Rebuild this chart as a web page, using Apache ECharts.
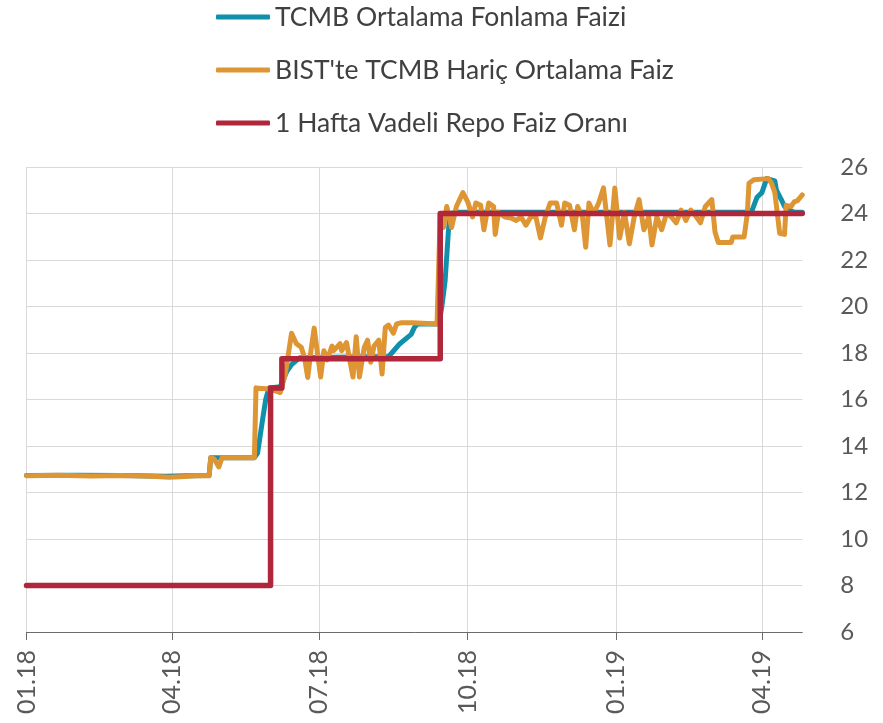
<!DOCTYPE html>
<html>
<head>
<meta charset="utf-8">
<script src="https://cdn.jsdelivr.net/npm/echarts@6/dist/echarts.min.js"></script>
<style>
html,body{margin:0;padding:0;background:#fff;}
#chart{width:883px;height:723px;}
</style>
</head>
<body>
<div id="chart"></div>
<script>
// ---- Data ----
const seriesNames = ["TCMB Ortalama Fonlama Faizi", "BIST'te TCMB Hariç Ortalama Faiz", "1 Hafta Vadeli Repo Faiz Oranı"];

const tcmbDates = ["2018-01-01","2018-02-01","2018-03-01","2018-03-28","2018-04-10","2018-04-24","2018-04-25","2018-05-22","2018-05-24","2018-05-27","2018-05-29","2018-05-31","2018-06-07","2018-06-11","2018-06-14","2018-06-19","2018-08-13","2018-08-15","2018-08-20","2018-08-27","2018-08-29","2018-08-31","2018-09-12","2018-09-14","2018-09-15","2018-09-17","2018-09-19","2018-09-20","2018-09-25","2019-03-22","2019-03-26","2019-03-29","2019-04-01","2019-04-02","2019-04-04","2019-04-09","2019-04-10","2019-04-13","2019-04-15","2019-04-18","2019-04-21","2019-04-26"];
const tcmbValues = [12.73,12.74,12.73,12.7,12.72,12.73,13.5,13.5,13.7,15.1,16.0,16.5,16.55,17.2,17.5,17.8,17.85,18.0,18.4,18.8,19.1,19.25,19.25,19.6,20.0,21.1,23.2,24.0,24.05,24.05,24.15,24.7,24.9,25.1,25.5,25.4,25.0,24.6,24.3,24.15,24.05,24.05];

const bistDates = ["2018-01-01","2018-01-20","2018-02-10","2018-03-01","2018-03-20","2018-03-30","2018-04-06","2018-04-16","2018-04-24","2018-04-25","2018-04-27","2018-04-30","2018-05-02","2018-05-22","2018-05-23","2018-05-31","2018-06-05","2018-06-07",
"2018-06-10","2018-06-14","2018-06-17","2018-06-20","2018-06-22","2018-06-24","2018-06-26","2018-06-28","2018-06-30","2018-07-02","2018-07-04","2018-07-06","2018-07-09","2018-07-10","2018-07-14","2018-07-15","2018-07-18","2018-07-20","2018-07-22","2018-07-24","2018-07-26","2018-07-29","2018-07-31","2018-08-02","2018-08-04","2018-08-07","2018-08-09","2018-08-11","2018-08-13","2018-08-16","2018-08-18","2018-08-21","2018-08-28","2018-09-12",
"2018-09-14","2018-09-16","2018-09-18","2018-09-21","2018-09-24","2018-09-28","2018-10-01","2018-10-04","2018-10-06","2018-10-09","2018-10-11","2018-10-14","2018-10-17","2018-10-18","2018-10-20","2018-10-24","2018-10-28","2018-10-31","2018-11-03","2018-11-06","2018-11-09","2018-11-12","2018-11-15","2018-11-18","2018-11-21","2018-11-25","2018-11-28","2018-11-30","2018-12-03","2018-12-06","2018-12-08","2018-12-11","2018-12-13","2018-12-15","2018-12-18","2018-12-21","2018-12-24","2018-12-28","2018-12-31",
"2019-01-03","2019-01-06","2019-01-09","2019-01-12","2019-01-15","2019-01-18","2019-01-21","2019-01-23","2019-01-26","2019-01-29","2019-02-01","2019-02-04","2019-02-07","2019-02-10","2019-02-13","2019-02-16","2019-02-19","2019-02-22","2019-02-25","2019-02-27","2019-03-01","2019-03-03","2019-03-05","2019-03-13","2019-03-14","2019-03-21","2019-03-23","2019-03-24","2019-03-27","2019-04-05","2019-04-07","2019-04-09","2019-04-12","2019-04-15","2019-04-16","2019-04-19","2019-04-21","2019-04-23","2019-04-26"];
const bistValues = [12.72,12.74,12.71,12.73,12.70,12.66,12.68,12.72,12.72,13.5,13.45,13.1,13.5,13.5,16.5,16.45,16.35,16.3,
17.05,18.85,18.4,18.25,17.8,16.95,18.1,19.07,18.0,16.97,18.1,17.7,18.3,18.1,18.4,18.1,18.45,17.7,16.97,18.7,16.97,18.25,18.55,17.6,18.3,18.55,17.1,19.1,19.2,18.85,19.25,19.3,19.3,19.25,
24.0,23.4,24.3,23.4,24.3,24.9,24.5,23.85,24.45,24.35,23.3,24.45,24.3,23.1,24.05,23.85,23.8,23.7,23.85,23.5,23.85,23.9,22.95,23.85,24.45,24.45,23.5,24.45,24.35,23.3,24.3,23.85,22.55,24.45,24.0,24.45,25.1,22.65,25.1,
22.95,24.05,22.7,23.85,24.6,23.3,23.85,22.65,23.85,23.3,24.0,23.85,23.6,24.15,23.7,24.15,23.9,23.6,24.3,24.45,24.6,23.2,22.75,22.75,22.99,22.99,24.0,25.3,25.45,25.5,25.3,24.9,23.15,23.1,24.35,24.3,24.5,24.55,24.8];

const repoDates = ["2018-01-01","2018-06-01","2018-06-08","2018-09-14","2019-04-26"];
const repoValues = [8, 16.5, 17.75, 24, 24];

const xTickDates = ["2018-01-01","2018-04-01","2018-07-01","2018-10-01","2019-01-01","2019-04-01"];
const xMin = "2018-01-01";
const xMax = "2019-04-26";
const yMin = 6, yMax = 26, yStep = 2;

// ---- Build ----
function ts(s){ const p = s.split('-'); return new Date(+p[0], +p[1]-1, +p[2]).getTime(); }
function zip(d, v){ return d.map((x,i)=>[ts(x), v[i]]); }
function pad(n){ return (n<10?'0':'')+n; }
const labelFont = 'Lato, "Open Sans", sans-serif';
const tickVals = xTickDates.map(ts);

const chart = echarts.init(document.getElementById('chart'), null, {renderer:'canvas'});
const option = {
  animation: false,
  backgroundColor: '#ffffff',
  color: ['#1190AC', '#DE9533', '#B0263A'],
  legend: {
    orient: 'vertical',
    left: 216,
    top: 2,
    padding: 0,
    itemWidth: 54,
    itemHeight: 5,
    itemGap: 23,
    icon: 'roundRect',
    data: seriesNames,
    textStyle: { fontFamily: labelFont, fontSize: 26.5, color: '#404040', lineHeight: 30 }
  },
  grid: { left: 26.5, right: 80.7, top: 167, bottom: 91, containLabel: false },
  xAxis: {
    type: 'value',
    min: ts(xMin),
    max: ts(xMax),
    scale: true,
    axisLine: { show: true, lineStyle: { color: '#6b6b6b', width: 1 } },
    axisTick: { show: true, length: 8, lineStyle: { color: '#6b6b6b' }, customValues: tickVals },
    axisLabel: {
      customValues: tickVals,
      rotate: 90,
      margin: 18,
      fontFamily: labelFont,
      fontSize: 25,
      color: '#595959',
      showMinLabel: true,
      showMaxLabel: true,
      hideOverlap: false,
      formatter: function (val) {
        const d = new Date(val);
        return pad(d.getMonth() + 1) + '.' + String(d.getFullYear()).slice(2);
      }
    },
    splitLine: { show: true, lineStyle: { color: '#d9d9d9', width: 1 } }
  },
  yAxis: {
    type: 'value',
    position: 'right',
    min: yMin, max: yMax, interval: yStep,
    axisLine: { show: false },
    axisTick: { show: false },
    axisLabel: { margin: 38, fontFamily: labelFont, fontSize: 24, color: '#595959' },
    splitLine: { show: true, lineStyle: { color: '#d9d9d9', width: 1 } }
  },
  series: [
    { name: seriesNames[0], type: 'line', data: zip(tcmbDates, tcmbValues), showSymbol: false, symbol: 'none',
      lineStyle: { width: 5, color: '#1190AC', cap: 'round', join: 'round' } },
    { name: seriesNames[1], type: 'line', data: zip(bistDates, bistValues), showSymbol: false, symbol: 'none',
      lineStyle: { width: 5, color: '#DE9533', cap: 'round', join: 'round' } },
    { name: seriesNames[2], type: 'line', step: 'end', data: zip(repoDates, repoValues), showSymbol: false, symbol: 'none',
      lineStyle: { width: 5.5, color: '#B0263A', cap: 'round', join: 'round' } }
  ]
};
chart.setOption(option);
</script>
</body>
</html>
